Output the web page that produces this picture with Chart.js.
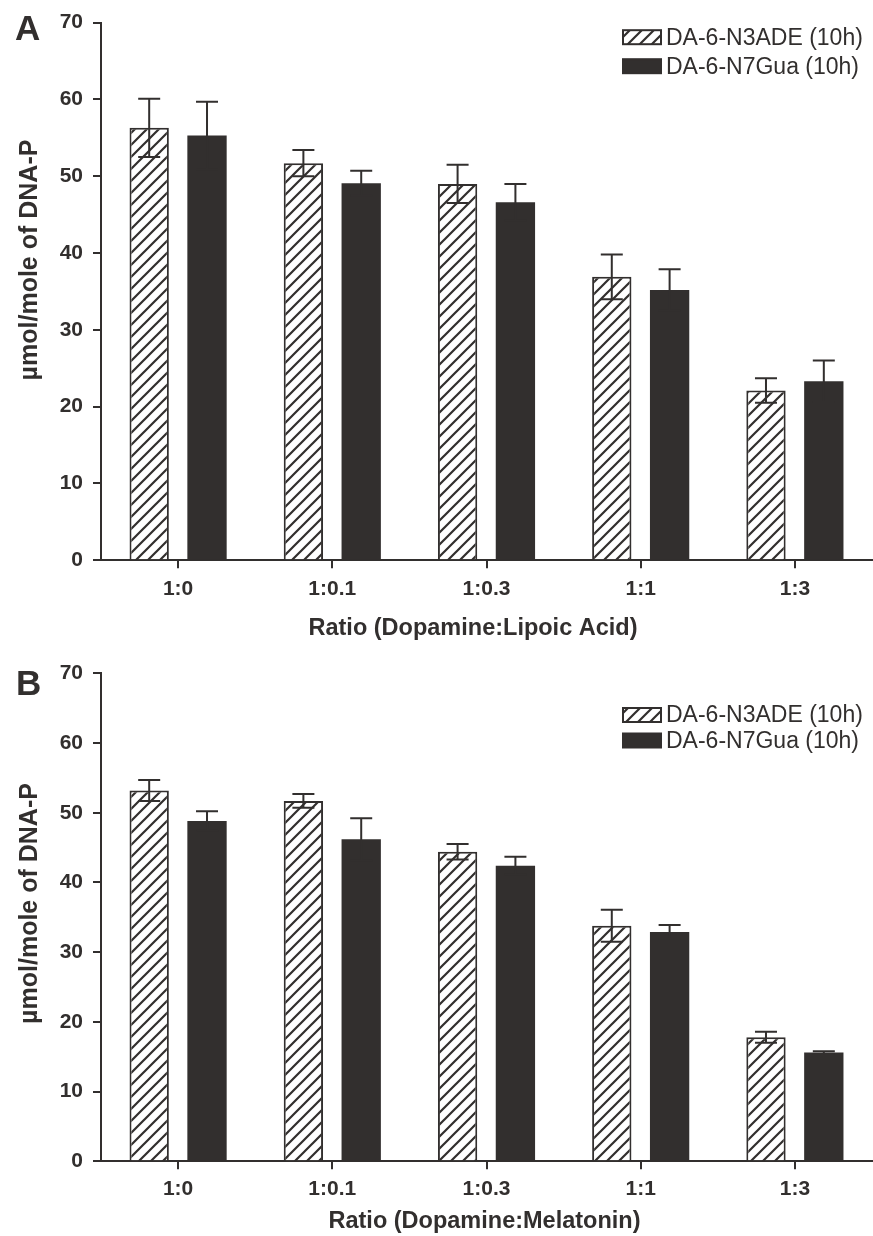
<!DOCTYPE html>
<html><head><meta charset="utf-8">
<script src="https://cdn.jsdelivr.net/npm/chart.js@4.4.1/dist/chart.umd.min.js"></script>
<style>
html,body{margin:0;padding:0;background:#ffffff;}
#wrap{position:relative;width:873px;height:1236px;overflow:hidden;}
.panel{position:absolute;left:0;width:873px;}
canvas{display:block;}
</style></head><body>
<div id="wrap">
<div class="panel" style="top:0;height:640px"><canvas id="cA" width="873" height="640"></canvas></div>
<div class="panel" style="top:640px;height:596px"><canvas id="cB" width="873" height="596"></canvas></div>
</div>
<script>
// ---- data ----
const categories = ['1:0', '1:0.1', '1:0.3', '1:1', '1:3'];
const seriesNames = ['DA-6-N3ADE (10h)', 'DA-6-N7Gua (10h)'];
const yMin = 0, yMax = 70, yStep = 10;

const lipoicN3Ade    = [56.3, 51.7, 49.0, 36.9, 22.1];
const lipoicN3AdeErr = [3.8, 1.7, 2.5, 2.9, 1.6];
const lipoicN7Gua    = [55.3, 49.1, 46.6, 35.2, 23.3];
const lipoicN7GuaErr = [4.4, 1.6, 2.4, 2.7, 2.7];

const melatN3Ade     = [53.2, 51.7, 44.4, 33.8, 17.8];
const melatN3AdeErr  = [1.5, 1.0, 1.1, 2.3, 0.8];
const melatN7Gua     = [48.8, 46.2, 42.4, 32.9, 15.6];
const melatN7GuaErr  = [1.4, 3.0, 1.3, 1.0, 0.2];

const yTitle = '\u00b5mol/mole of DNA-P';
const xTitleA = 'Ratio (Dopamine:Lipoic Acid)';
const xTitleB = 'Ratio (Dopamine:Melatonin)';

// ---- styling ----
const ink = '#322f2e';
const barFill = '#322f2e';
const FONT = "'Liberation Sans', Arial, Helvetica, sans-serif";

function makeHatch(ctx) {
  const s = 12;
  const c = document.createElement('canvas');
  c.width = s; c.height = s;
  const g = c.getContext('2d');
  g.fillStyle = '#ffffff';
  g.fillRect(0, 0, s, s);
  g.strokeStyle = ink;
  g.lineWidth = 2.2;
  g.beginPath();
  g.moveTo(0, s); g.lineTo(s, 0);
  g.moveTo(-3, 3); g.lineTo(3, -3);
  g.moveTo(s - 3, s + 3); g.lineTo(s + 3, s - 3);
  g.stroke();
  return ctx.createPattern(c, 'repeat');
}

const errorBars = {
  id: 'errorBars',
  afterDatasetsDraw(chart, args, opts) {
    const ctx = chart.ctx, y = chart.scales.y;
    chart.data.datasets.forEach((ds, i) => {
      const meta = chart.getDatasetMeta(i);
      meta.data.forEach((bar, j) => {
        const v = ds.data[j], e = ds.errors[j];
        const yt = y.getPixelForValue(v + e), yb = y.getPixelForValue(v - e);
        const h = opts.cap / 2;
        ctx.save();
        ctx.strokeStyle = ink;
        ctx.lineWidth = 2;
        ctx.beginPath();
        ctx.moveTo(bar.x, yt); ctx.lineTo(bar.x, yb);
        ctx.moveTo(bar.x - h, yt); ctx.lineTo(bar.x + h, yt);
        ctx.moveTo(bar.x - h, yb); ctx.lineTo(bar.x + h, yb);
        ctx.stroke();
        ctx.restore();
      });
    });
  }
};

const decor = {
  id: 'decor',
  afterDraw(chart, args, o) {
    const ctx = chart.ctx;
    ctx.save();
    ctx.fillStyle = ink;
    // panel letter
    ctx.font = 'bold 35px ' + FONT;
    ctx.textAlign = 'left';
    ctx.textBaseline = 'alphabetic';
    ctx.fillText(o.letter, o.letterX, o.letterY);
    // legend
    ctx.font = '23px ' + FONT;
    ctx.textBaseline = 'middle';
    chart.data.datasets.forEach((ds, i) => {
      const cy = o.legendY[i];
      ctx.fillStyle = ds.backgroundColor;
      ctx.fillRect(o.legendX, cy - 7, 38, 14);
      ctx.strokeStyle = ink;
      ctx.lineWidth = 2;
      ctx.strokeRect(o.legendX, cy - 7, 38, 14);
      ctx.fillStyle = ink;
      ctx.fillText(ds.label, o.legendX + 43, cy + 1);
    });
    // x title
    ctx.font = 'bold 23.5px ' + FONT;
    ctx.textAlign = 'center';
    ctx.textBaseline = 'alphabetic';
    ctx.fillText(o.xTitle, o.xTitleX, o.xTitleY);
    // y title
    ctx.font = 'bold 25px ' + FONT;
    ctx.translate(o.yTitleX, o.yTitleY);
    ctx.rotate(-Math.PI / 2);
    ctx.fillText(yTitle, 0, 0);
    ctx.restore();
  }
};

function makeChart(id, n3, n3e, n7, n7e, cfg) {
  const canvas = document.getElementById(id);
  const ctx = canvas.getContext('2d');
  const H = canvas.height;
  return new Chart(ctx, {
    type: 'bar',
    data: {
      labels: categories,
      datasets: [
        { label: seriesNames[0], data: n3, errors: n3e, backgroundColor: makeHatch(ctx),
          borderColor: ink, borderWidth: 2, borderSkipped: 'bottom' },
        { label: seriesNames[1], data: n7, errors: n7e, backgroundColor: barFill,
          borderColor: barFill, borderWidth: 0 }
      ]
    },
    options: {
      responsive: false,
      animation: false,
      devicePixelRatio: 1,
      categoryPercentage: 0.75,
      barPercentage: 0.68,
      layout: { padding: { top: cfg.top, right: 1, left: 0, bottom: 0 } },
      plugins: {
        legend: { display: false },
        tooltip: { enabled: false },
        errorBars: { cap: 22 },
        decor: cfg.decor
      },
      scales: {
        x: {
          afterFit: s => { s.height = H - cfg.bottom; },
          grid: { display: true, drawOnChartArea: false, drawTicks: true, offset: false,
                  tickLength: 8, color: ink, lineWidth: 2 },
          border: { display: true, color: ink, width: 2 },
          ticks: { color: ink, font: { family: FONT, size: 21, weight: 'bold' },
                   padding: cfg.xPad, maxRotation: 0, autoSkip: false }
        },
        y: {
          min: yMin, max: yMax,
          afterFit: s => { s.width = 101; },
          grid: { display: true, drawOnChartArea: false, drawTicks: true,
                  tickLength: 8, color: ink, lineWidth: 2 },
          border: { display: true, color: ink, width: 2 },
          ticks: { stepSize: yStep, color: ink, font: { family: FONT, size: 21, weight: 'bold' },
                   padding: 10 }
        }
      }
    },
    plugins: [errorBars, decor]
  });
}

makeChart('cA', lipoicN3Ade, lipoicN3AdeErr, lipoicN7Gua, lipoicN7GuaErr, {
  top: 19.5, bottom: 560.3, xPad: 8,
  decor: { letter: 'A', letterX: 15, letterY: 40, legendX: 623, legendY: [37.2, 66.2],
           xTitle: xTitleA, xTitleX: 473, xTitleY: 635, yTitleX: 37, yTitleY: 260 }
});
makeChart('cB', melatN3Ade, melatN3AdeErr, melatN7Gua, melatN7GuaErr, {
  top: 33.3, bottom: 521.3, xPad: 7,
  decor: { letter: 'B', letterX: 16, letterY: 55, legendX: 623, legendY: [75, 100.5],
           xTitle: xTitleB, xTitleX: 484.5, xTitleY: 588, yTitleX: 37, yTitleY: 263.5 }
});
</script>
</body></html>
